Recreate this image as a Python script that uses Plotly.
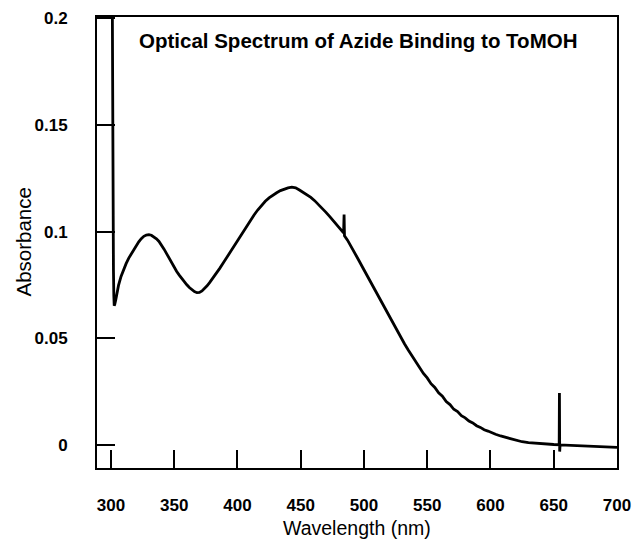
import plotly.graph_objects as go

# Absorbance spectrum of azide binding to ToMOH
wavelength_nm = [
    300.8, 301.2, 301.6, 302.0, 302.3, 302.6, 303.0, 303.8, 304.7, 306.0,
    308.0, 310.0, 312.0, 314.0, 316.0, 318.0, 320.0, 322.0, 324.0, 326.0,
    328.0, 330.0, 332.0, 334.0, 336.0, 338.0, 340.0, 342.0, 344.0, 346.0,
    348.0, 350.0, 352.0, 354.0, 356.0, 358.0, 360.0, 362.0, 364.0, 366.0,
    368.0, 370.0, 372.0, 374.0, 376.0, 378.0, 380.0, 383.0, 386.0, 389.0,
    392.0, 395.0, 398.0, 401.0, 404.0, 407.0, 410.0, 413.0, 416.0, 419.0,
    422.0, 425.0, 428.0, 431.0, 434.0, 437.0, 440.0, 443.0, 446.0, 449.0,
    452.0, 455.0, 458.0, 461.0, 464.0, 467.0, 470.0, 473.0, 476.0, 479.0,
    482.0, 483.9, 484.3, 484.6, 487.0, 490.0, 493.0, 496.0, 499.0, 502.0,
    505.0, 508.0, 511.0, 514.0, 517.0, 520.0, 523.0, 526.0, 529.0, 532.0,
    535.0, 538.0, 541.0, 544.0, 547.0, 550.0, 553.0, 556.0, 559.0, 562.0,
    565.0, 568.0, 571.0, 574.0, 577.0, 580.0, 583.0, 586.0, 589.0, 592.0,
    595.0, 598.0, 601.0, 604.0, 608.0, 612.0, 616.0, 620.0, 625.0, 630.0,
    635.0, 640.0, 645.0, 650.0, 654.3, 654.5, 654.7, 655.0, 660.0, 670.0,
    680.0, 690.0, 700.0,
]
absorbance = [
    0.2500, 0.1600, 0.1100, 0.0820, 0.0700, 0.0653, 0.0658, 0.0680, 0.0712, 0.0748,
    0.0790, 0.0822, 0.0850, 0.0875, 0.0896, 0.0915, 0.0935, 0.0952, 0.0967, 0.0978,
    0.0984, 0.0986, 0.0983, 0.0976, 0.0966, 0.0954, 0.0938, 0.0918, 0.0897, 0.0875,
    0.0853, 0.0832, 0.0813, 0.0796, 0.0780, 0.0765, 0.0751, 0.0738, 0.0727, 0.0719,
    0.0714, 0.0715, 0.0722, 0.0733, 0.0746, 0.0761, 0.0777, 0.0802, 0.0828, 0.0855,
    0.0883, 0.0911, 0.0940, 0.0968, 0.0996, 0.1024, 0.1051, 0.1077, 0.1101, 0.1123,
    0.1142, 0.1158, 0.1171, 0.1182, 0.1192, 0.1200, 0.1205, 0.1208, 0.1205, 0.1195,
    0.1184, 0.1172, 0.1160, 0.1145, 0.1128, 0.1110, 0.1090, 0.1070, 0.1048, 0.1028,
    0.1008, 0.0994, 0.1080, 0.0980, 0.0960, 0.0930, 0.0898, 0.0865, 0.0832, 0.0799,
    0.0767, 0.0734, 0.0700, 0.0667, 0.0634, 0.0600, 0.0568, 0.0536, 0.0505, 0.0475,
    0.0446, 0.0418, 0.0390, 0.0366, 0.0336, 0.0315, 0.0288, 0.0270, 0.0245, 0.0229,
    0.0204, 0.0190, 0.0168, 0.0157, 0.0138, 0.0128, 0.0113, 0.0104, 0.0091, 0.0083,
    0.0072, 0.0066, 0.0057, 0.0051, 0.0043, 0.0036, 0.0029, 0.0023, 0.0016, 0.0012,
    0.0009, 0.0007, 0.0005, 0.0003, 0.0002, 0.0244, -0.0030, 0.0001, 0.0000, -0.0004,
    -0.0006, -0.0008, -0.0010,
]

x_ticks = [300, 350, 400, 450, 500, 550, 600, 650, 700]
y_ticks = [0, 0.05, 0.1, 0.15, 0.2]
y_tick_text = ["0", "0.05", "0.1", "0.15", "0.2"]

title_text = "Optical Spectrum of Azide Binding to ToMOH"
x_title = "Wavelength (nm)"
y_title = "Absorbance"
FONT = "Liberation Sans, Arial, sans-serif"

fig = go.Figure(
    go.Scatter(
        x=wavelength_nm,
        y=absorbance,
        mode="lines",
        line=dict(color="black", width=2.8),
        showlegend=False,
    )
)

axis_common = dict(
    showline=True,
    linecolor="black",
    linewidth=2,
    mirror=True,
    showgrid=False,
    zeroline=False,
    ticks="inside",
    ticklen=18,
    tickwidth=2,
    tickcolor="black",
    tickfont=dict(family=FONT, size=17, color="black", weight="bold"),
    automargin=False,
)

fig.update_xaxes(range=[289, 700], tickvals=x_ticks, ticklabelstandoff=21, **axis_common)
fig.update_yaxes(
    range=[-0.0107, 0.2005],
    tickvals=y_ticks,
    ticktext=y_tick_text,
    ticklabelstandoff=24,
    **axis_common,
)

# chart title inside the frame, axis titles outside it
fig.add_annotation(
    text="<b>" + title_text + "</b>",
    xref="paper", yref="paper",
    x=0.502, y=0.949, yanchor="middle",
    showarrow=False,
    font=dict(family=FONT, size=20.5, color="black"),
)
fig.add_annotation(
    text=x_title,
    xref="paper", yref="paper",
    x=0.5, y=-0.1338, yanchor="middle",
    showarrow=False,
    font=dict(family=FONT, size=19.5, color="black"),
)
fig.add_annotation(
    text=y_title,
    xref="paper", yref="paper",
    x=-0.1423, xanchor="center", y=0.5, yanchor="middle",
    textangle=-90,
    showarrow=False,
    font=dict(family=FONT, size=20.5, color="black"),
)

fig.update_layout(
    width=636,
    height=543,
    margin=dict(l=97, r=19, t=17, b=75),
    paper_bgcolor="white",
    plot_bgcolor="white",
)

fig.write_html("out.html")
